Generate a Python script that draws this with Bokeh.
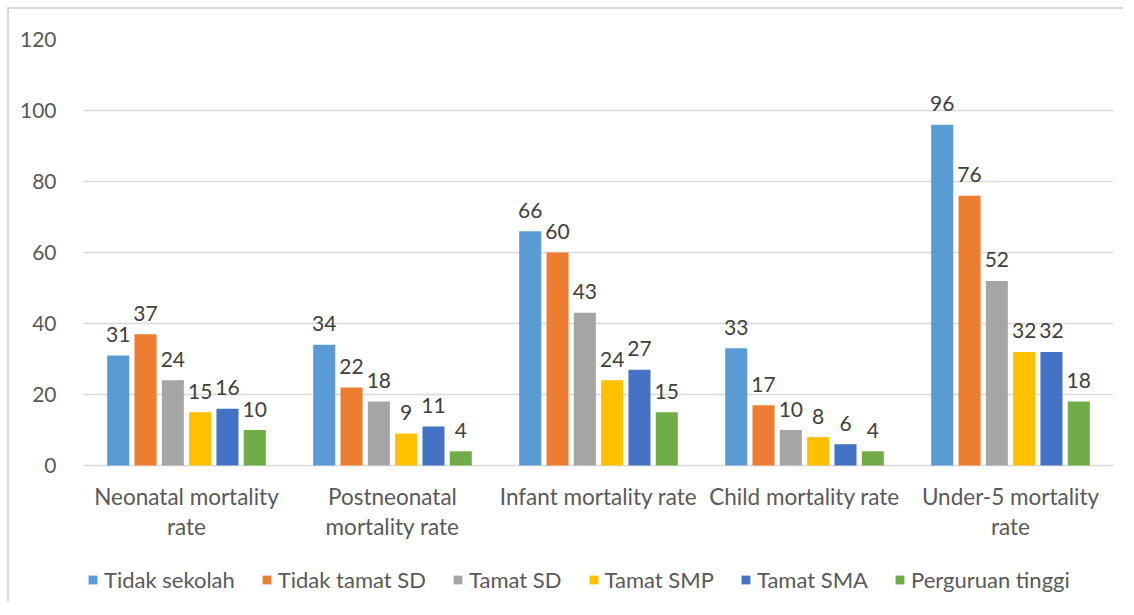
from bokeh.plotting import figure
from bokeh.models import (FactorRange, Range1d, ColumnDataSource, Legend, LegendItem, FixedTicker)
from bokeh.transform import dodge
from bokeh.core.properties import value
from bokeh.embed import file_html
from bokeh.resources import INLINE

categories = ["Neonatal mortality rate", "Postneonatal mortality rate", "Infant mortality rate",
              "Child mortality rate", "Under-5 mortality rate"]
label_line1 = ["Neonatal mortality", "Postneonatal", "Infant mortality rate",
               "Child mortality rate", "Under-5 mortality"]
label_line2 = ["rate", "mortality rate", "", "", "rate"]
series_names = ["Tidak sekolah", "Tidak tamat SD", "Tamat SD", "Tamat SMP", "Tamat SMA", "Perguruan tinggi"]
tidak_sekolah = [31, 34, 66, 33, 96]
tidak_tamat_sd = [37, 22, 60, 17, 76]
tamat_sd = [24, 18, 43, 10, 52]
tamat_smp = [15, 9, 24, 8, 32]
tamat_sma = [16, 11, 27, 6, 32]
perguruan_tinggi = [10, 4, 15, 4, 18]
colors = ["#5B9BD5", "#ED7D31", "#A5A5A5", "#FFC000", "#4472C4", "#70AD47"]
y_ticks = [0, 20, 40, 60, 80, 100, 120]

series_values = [tidak_sekolah, tidak_tamat_sd, tamat_sd, tamat_smp, tamat_sma, perguruan_tinggi]

FONT = "Lato"
TXT = "#595959"

p = figure(x_range=FactorRange(*categories, range_padding=0), y_range=Range1d(-39.15, 120),
           width=1116, height=595, output_backend="svg", toolbar_location=None,
           min_border_left=74, min_border_right=12, min_border_top=30, min_border_bottom=0)
p.outline_line_color = None
p.styles = {"border-left": "2px solid #D9D9D9", "border-top": "2px solid #D9D9D9",
            "margin-left": "7px", "margin-top": "7px"}

data = {"cat": categories, "base": [0] * len(categories),
        "line1": label_line1, "line2": label_line2}
for i, vals in enumerate(series_values):
    data[f"s{i}"] = vals
    data[f"l{i}"] = [str(v) for v in vals]
src = ColumnDataSource(data)

slot = 0.1326
bw = 0.107
items = []
for i, name in enumerate(series_names):
    off = (i - 2.5) * slot
    r = p.vbar(x=dodge("cat", off, range=p.x_range), top=f"s{i}", width=bw, source=src,
               fill_color=colors[i], line_color=None)
    p.text(x=dodge("cat", off, range=p.x_range), y=f"s{i}", text=f"l{i}", source=src,
           text_align="center", text_baseline="alphabetic", y_offset=-21,
           text_font=value(FONT), text_font_size="21px", text_color="#404040")
    items.append(LegendItem(label=name, renderers=[r]))

# category labels (two lines) under the baseline
p.text(x="cat", y="base", text="line1", source=src, text_align="center", text_baseline="middle",
       y_offset=31, text_font=value(FONT), text_font_size="22.5px", text_color=TXT)
p.text(x="cat", y="base", text="line2", source=src, text_align="center", text_baseline="middle",
       y_offset=61, text_font=value(FONT), text_font_size="22.5px", text_color=TXT)

p.xaxis.visible = False
p.xgrid.grid_line_color = None
p.ygrid.ticker = FixedTicker(ticks=y_ticks)
p.ygrid.grid_line_color = "#D9D9D9"
p.ygrid.grid_line_width = 1.5
p.yaxis.ticker = FixedTicker(ticks=y_ticks)
p.yaxis.axis_line_color = None
p.yaxis.major_tick_line_color = None
p.yaxis.minor_tick_line_color = None
p.yaxis.major_label_standoff = 21
p.yaxis.major_label_text_font = FONT
p.yaxis.major_label_text_font_size = "21px"
p.yaxis.major_label_text_color = TXT

legend = Legend(items=items, orientation="horizontal", location=(4, 11),
                glyph_width=11, glyph_height=11, label_standoff=6, spacing=26,
                label_text_font=FONT, label_text_font_size="22px", label_text_color=TXT,
                padding=0, margin=0, border_line_color=None, background_fill_alpha=0)
p.add_layout(legend, "center")

open("out.html", "w").write(file_html(p, INLINE))
